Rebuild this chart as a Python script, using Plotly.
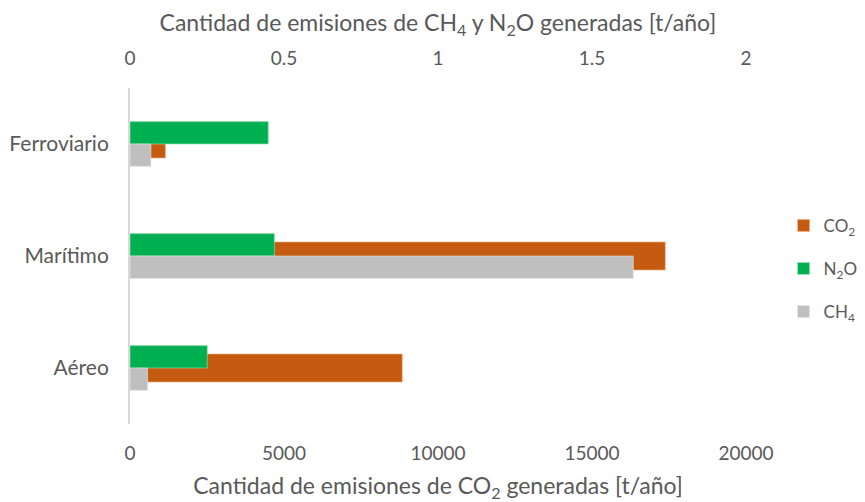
import plotly.graph_objects as go

categorias = ["Ferroviario", "Marítimo", "Aéreo"]
co2 = [1150, 17380, 8840]
n2o = [0.449, 0.469, 0.251]
ch4 = [0.068, 1.634, 0.057]

ticks_co2 = [0, 5000, 10000, 15000, 20000]
ticks_gei = [0, 0.5, 1, 1.5, 2]

FONT = dict(family="Lato, 'Open Sans', sans-serif", color="#595959")

fig = go.Figure()
fig.add_trace(go.Bar(
    y=categorias, x=co2, orientation="h", name="CO<sub>2</sub>", legendgroup="co2",
    marker=dict(color="#C55A11", line=dict(color="#F4B183", width=0.6)),
    width=0.25, offset=-0.125, xaxis="x", yaxis="y",
))
fig.add_trace(go.Bar(
    y=categorias, x=n2o, orientation="h", name="N<sub>2</sub>O", legendgroup="n2o",
    marker=dict(color="#00B050", line=dict(color="#9FE0B8", width=0.6)),
    width=0.2, offset=0, xaxis="x2", yaxis="y",
))
fig.add_trace(go.Bar(
    y=categorias, x=ch4, orientation="h", name="CH<sub>4</sub>", legendgroup="ch4",
    marker=dict(color="#BFBFBF", line=dict(color="#E5E5E5", width=0.6)),
    width=0.2, offset=-0.2, xaxis="x2", yaxis="y",
))

# la página añade ~8 px de margen, por eso la figura es algo menor que la ventana
fig.update_layout(
    width=857, height=494,
    barmode="overlay",
    paper_bgcolor="white", plot_bgcolor="white",
    font=FONT,
    margin=dict(l=122, r=119, t=80, b=78),
    xaxis=dict(
        range=[0, 20000], tickvals=ticks_co2, ticktext=[str(t) for t in ticks_co2],
        showgrid=False, zeroline=False, showline=False, automargin=False,
        ticks="outside", ticklen=12, tickcolor="rgba(0,0,0,0)",
        tickfont=dict(size=19),
        title=dict(text="Cantidad de emisiones de CO<sub>2</sub> generadas [t/año]",
                   font=dict(size=23), standoff=18),
    ),
    xaxis2=dict(
        range=[0, 2], tickvals=ticks_gei, ticktext=[f"{t:g}" for t in ticks_gei],
        overlaying="x", side="top",
        showgrid=False, zeroline=False, showline=False, automargin=False,
        ticks="outside", ticklen=14, tickcolor="rgba(0,0,0,0)",
        tickfont=dict(size=19),
        title=dict(text="Cantidad de emisiones de CH<sub>4</sub> y N<sub>2</sub>O generadas [t/año]",
                   font=dict(size=23), standoff=14),
    ),
    yaxis=dict(
        categoryorder="array", categoryarray=categorias[::-1],
        range=[-0.5, 2.5], automargin=False,
        showgrid=False, zeroline=False,
        showline=True, linecolor="#D9D9D9", linewidth=2,
        ticks="outside", ticklen=15, tickcolor="rgba(0,0,0,0)",
        tickfont=dict(size=21),
    ),
    legend=dict(
        xref="container", yref="container",
        x=0.905, y=0.472, xanchor="left", yanchor="middle",
        font=dict(size=17), traceorder="grouped", tracegroupgap=18,
        itemwidth=30,
    ),
)

fig.write_html("out.html")
